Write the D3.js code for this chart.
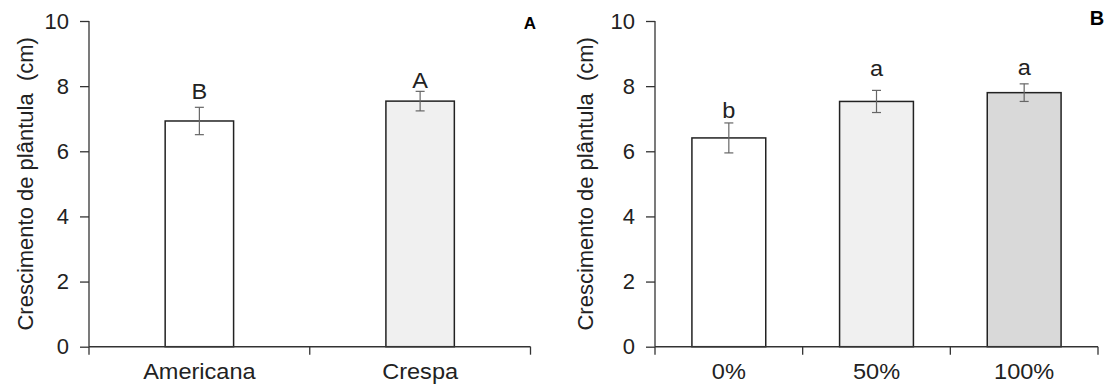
<!DOCTYPE html>
<html><head><meta charset="utf-8">
<script src="https://cdn.jsdelivr.net/npm/d3@7"></script>
<style>body{margin:0;background:#fff}svg{display:block}text{font-family:"Liberation Sans",Arial,sans-serif}</style>
</head><body>
<svg id="c" width="1107" height="385"></svg>
<script>
const catsA = ["Americana", "Crespa"];
const meansA = [6.93, 7.54];
const errsA = [0.42, 0.30];
const lettersA = ["B", "A"];
const letterValsA = [7.60, 7.93];
const fillsA = ["#ffffff", "#f0f0f0"];

const catsB = ["0%", "50%", "100%"];
const meansB = [6.41, 7.53, 7.80];
const errsB = [0.46, 0.34, 0.27];
const lettersB = ["b", "a", "a"];
const letterValsB = [7.02, 8.32, 8.33];
const fillsB = ["#ffffff", "#f0f0f0", "#d9d9d9"];

const yTicks = [0, 2, 4, 6, 8, 10];
const yLabel = "Crescimento de plântula\u00a0 (cm)";

const svg = d3.select("#c");
const SX = 1.07;

function panel(cfg) {
  const g = svg.append("g");
  const x = d3.scaleBand().domain(cfg.cats).range([cfg.x0, cfg.x1]).paddingInner(cfg.pad).paddingOuter(cfg.pad / 2);
  const y = d3.scaleLinear().domain([0, 10]).range([346.7, 21]);
  const data = cfg.cats.map((c, i) => ({c, m: cfg.means[i], e: cfg.errs[i], l: cfg.letters[i], lv: cfg.lvals[i], f: cfg.fills[i]}));
  const cx = d => x(d.c) + x.bandwidth() / 2;

  // bars
  g.selectAll("rect.bar").data(data).join("rect")
    .attr("x", d => x(d.c)).attr("width", x.bandwidth())
    .attr("y", d => y(d.m)).attr("height", d => y(0) - y(d.m))
    .attr("fill", d => d.f).attr("stroke", "#222").attr("stroke-width", 1.5);

  // error bars
  const eb = g.selectAll("g.eb").data(data).join("g").attr("stroke", "#666").attr("stroke-width", 1.2);
  eb.append("line").attr("x1", cx).attr("x2", cx)
    .attr("y1", d => y(d.m + d.e)).attr("y2", d => y(d.m - d.e));
  eb.append("line").attr("x1", d => cx(d) - 4.5).attr("x2", d => cx(d) + 4.5)
    .attr("y1", d => y(d.m + d.e)).attr("y2", d => y(d.m + d.e));
  eb.append("line").attr("x1", d => cx(d) - 4.5).attr("x2", d => cx(d) + 4.5)
    .attr("y1", d => y(d.m - d.e)).attr("y2", d => y(d.m - d.e));

  // letters
  g.selectAll("text.let").data(data).join("text")
    .attr("transform", d => `translate(${cx(d)},${y(d.lv)}) scale(${SX},1)`)
    .attr("text-anchor", "middle").attr("font-size", 22).attr("fill", "#222").text(d => d.l);

  // y axis
  const ya = g.append("g").attr("transform", `translate(${cfg.x0},0)`)
    .call(d3.axisLeft(y).tickValues(yTicks).tickSize(9).tickPadding(11));
  ya.selectAll("text").attr("font-size", 22).attr("fill", "#222");
  ya.selectAll("line,path").attr("stroke", "#333").attr("stroke-width", 1.3);
  ya.select("path").attr("d", `M0,${y(0)}V${y(10)}`);

  // x axis: ticks at category boundaries
  const bounds = d3.range(cfg.cats.length + 1).map(i => cfg.x0 + i * x.step());
  const xa = g.append("g").attr("transform", `translate(0,${y(0)})`);
  xa.append("line").attr("x1", cfg.x0).attr("x2", cfg.x1).attr("stroke", "#333").attr("stroke-width", 1.5);
  xa.selectAll("line.tk").data(bounds).join("line").attr("class", "tk")
    .attr("x1", d => d).attr("x2", d => d).attr("y1", 0).attr("y2", 8).attr("stroke", "#333").attr("stroke-width", 1.3);
  xa.selectAll("text").data(cfg.cats).join("text")
    .attr("transform", d => `translate(${x(d) + x.bandwidth() / 2},32.5) scale(${SX},1)`)
    .attr("text-anchor", "middle").attr("font-size", 22).attr("fill", "#222").text(d => d);

  // y label
  g.append("text").attr("transform", `translate(${cfg.ylx},${(y(0) + y(10)) / 2}) rotate(-90)`)
    .attr("text-anchor", "middle").attr("font-size", 22).attr("fill", "#222").text(yLabel);

  // panel letter
  g.append("text").attr("x", cfg.px).attr("y", cfg.py).attr("text-anchor", "middle")
    .attr("font-size", cfg.psize).attr("font-weight", "bold").attr("fill", "#000").text(cfg.plabel);
}

panel({cats: catsA, means: meansA, errs: errsA, letters: lettersA, lvals: letterValsA, fills: fillsA,
  x0: 89, x1: 530.5, pad: 0.69, ylx: 33, px: 530, py: 29, psize: 17, plabel: "A"});
panel({cats: catsB, means: meansB, errs: errsB, letters: lettersB, lvals: letterValsB, fills: fillsB,
  x0: 655, x1: 1098, pad: 0.5, ylx: 593, px: 1097, py: 25, psize: 20, plabel: "B"});
</script>
</body></html>
